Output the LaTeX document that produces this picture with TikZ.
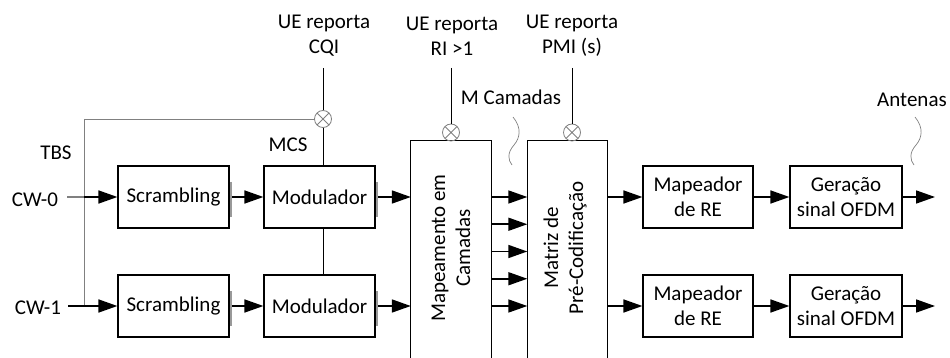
\documentclass[tikz,border=0pt]{standalone}
\usepackage{fontspec}
\setmainfont{Carlito}
\usetikzlibrary{arrows.meta,calc}

\begin{document}
\begin{tikzpicture}[x=1pt,y=-1pt,
  every node/.style={font=\fontsize{21}{25}\selectfont, inner sep=0pt, align=center},
  blk/.style={draw=black, line width=1.2pt, minimum width=111pt, minimum height=62pt},
  tall/.style={minimum width=80pt, minimum height=217pt},
  conn/.style={line width=1.7pt, -{Triangle[length=19pt,width=13pt]}},
  ctrl/.style={line width=0.9pt},
  graywire/.style={gray, line width=0.9pt},
  tick/.style={gray!80, line width=2pt},
  squig/.style={gray, line width=0.7pt},
  otim/.style={circle, draw=gray, line width=0.8pt, minimum size=17pt,
    path picture={\draw[gray, line width=0.8pt]
      (path picture bounding box.north west) -- (path picture bounding box.south east)
      (path picture bounding box.north east) -- (path picture bounding box.south west);}}
]
\useasboundingbox (0,0) rectangle (950,358);

% input labels
\node (cw0) at (35,200) {CW-0};
\node (cw1) at (38,308) {CW-1};
\node (tbs) at (56,153) {TBS};
\node (mcs) at (288,145) {MCS};

% processing blocks, two rows
\node[blk] (scr1) at (173.5,197) {Scrambling};
\node[blk] (scr2) at (173.5,306) {Scrambling};
\node[blk] (mod1) at (319.5,197) {Modulador};
\node[blk] (mod2) at (319.5,306) {Modulador};
\node[blk, minimum width=110pt] (re1) at (698,197) {Mapeador\\de RE};
\node[blk, minimum width=110pt] (re2) at (698,306) {Mapeador\\de RE};
\node[blk, minimum width=112pt] (of1) at (846,197) {Geração\\sinal OFDM};
\node[blk, minimum width=112pt] (of2) at (846,306) {Geração\\sinal OFDM};

% layer mapper and precoder (open at the bottom)
\node[tall] (map) at (451,249.5) {};
\node[tall] (pre) at (567.5,249.5) {};
\draw[line width=1.2pt] (map.south west) -- (map.north west) -- (map.north east) -- (map.south east);
\draw[line width=1.2pt] (pre.south west) -- (pre.north west) -- (pre.north east) -- (pre.south east);
\node[rotate=90] (maplbl) at (451,248) {Mapeamento em\\Camadas};
\node[rotate=90] (prelbl) at (565,248) {Matriz de\\Pré-Codificação};

% UE reports
\node (cqi) at (324,36) {UE reporta\\CQI};
\node (ri) at (452,36) {UE reporta\\RI >1};
\node (pmi) at (572,36) {UE reporta\\PMI (s)};
\coordinate (cqib) at (323,68);
\coordinate (rib) at (451,68);
\coordinate (pmib) at (572,68);
\node[otim] (ox1) at (323,119) {};
\node[otim] (ox2) at (451,132.5) {};
\node[otim] (ox3) at (572,132.5) {};
\draw[ctrl] (cqib) -- (ox1.north);
\draw[ctrl] (ox1.south) -- (ox1.south |- mod1.north);
\draw[ctrl] (ox1 |- mod1.south) -- (ox1 |- mod2.north);
\draw[ctrl] (rib) -- (ox2.north);
\draw[ctrl] (pmib) -- (ox3.north);

% TBS feed
\coordinate (g0) at (67,197);
\coordinate (t1) at (84,197);
\coordinate (t2) at (84,306);
\coordinate (ttop) at (84,119);
\coordinate (c1) at (68,306);
\draw[graywire] (ttop) -- (t2);
\draw[graywire] (ttop) -- (ox1.west);
\draw[gray, line width=1.8pt] (g0) -- (t1);
\draw[conn] (t1) -- (scr1.west);
\draw[conn] (c1) -- (scr2.west);

% row connectors
\foreach \r in {1,2}{
  \draw[conn] (scr\r.east) -- (mod\r.west);
  \draw[conn] (mod\r.east) -- (mod\r.east -| map.west);
  \draw[conn] (pre.east |- re\r.west) -- (re\r.west);
  \draw[conn] (re\r.east) -- (of\r.west);
  \coordinate (ant\r) at (935,0 |- of\r.east);
  \draw[conn] (of\r.east) -- (ant\r);
  \draw[tick] ($(scr\r.east)+(1.5,-15)$) -- ($(scr\r.east)+(1.5,20)$);
  \draw[tick] ($(mod\r.east)+(1.5,-15)$) -- ($(mod\r.east)+(1.5,20)$);
}

% layers between mapper and precoder
\foreach \yy [count=\i] in {197,224.25,251.5,278.75,306}{
  \coordinate (ly\i) at (0,\yy);
  \draw[conn] (map.east |- ly\i) -- (pre.west |- ly\i);
}

% annotations
\node (mcam) at (511,97) {M Camadas};
\node (ant) at (912,100) {Antenas};
\draw[squig] (513,117) .. controls (522,128) and (520,138) .. (514,145)
  .. controls (507,153) and (508,160) .. (512,165);
\draw[squig] (915,117) .. controls (924,128) and (922,138) .. (916,145)
  .. controls (909,153) and (910,160) .. (914,165);
\end{tikzpicture}
\end{document}
